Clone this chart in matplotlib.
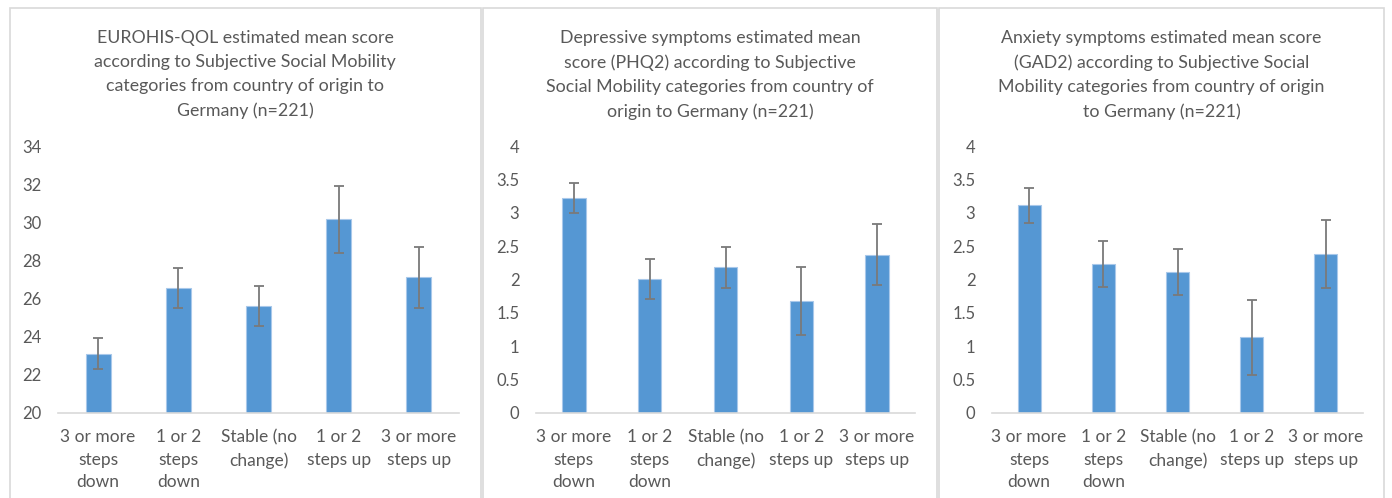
import matplotlib.pyplot as plt
from matplotlib.patches import Rectangle

plt.rcParams['font.family'] = ['Lato', 'DejaVu Sans']

# categories and estimated means with error half-widths
categories = ['3 or more\nsteps\ndown', '1 or 2\nsteps\ndown', 'Stable (no\nchange)',
              '1 or 2\nsteps up', '3 or more\nsteps up']

qol_mean = [23.1, 26.55, 25.6, 30.15, 27.1]
qol_err = [0.8, 1.05, 1.05, 1.75, 1.6]

phq_mean = [3.22, 2.01, 2.18, 1.68, 2.37]
phq_err = [0.23, 0.3, 0.305, 0.51, 0.46]

gad_mean = [3.11, 2.23, 2.11, 1.13, 2.38]
gad_err = [0.26, 0.34, 0.34, 0.565, 0.51]

titles = [
    'EUROHIS-QOL estimated mean score\naccording to Subjective Social Mobility\ncategories from country of origin to\nGermany (n=221)',
    'Depressive symptoms estimated mean\nscore (PHQ2) according to Subjective\nSocial Mobility categories from country of\norigin to Germany (n=221)',
    'Anxiety symptoms estimated mean score\n(GAD2) according to Subjective Social\nMobility categories from country of origin\nto Germany (n=221)',
]

W, H = 1392, 498
fig = plt.figure(figsize=(W / 100, H / 100), dpi=100)

gray = '#595959'
bar_color = '#5597d3'

# panel frames (x0, x1) and plot areas (left, right) in pixels
frames = [(9.5, 481), (483, 937), (939, 1384)]
areas = [(58, 459), (536, 915), (992, 1363)]
bottom_px, top_px = 412.7, 146

panels = [
    (qol_mean, qol_err, (20, 34), [20, 22, 24, 26, 28, 30, 32, 34], ['20', '22', '24', '26', '28', '30', '32', '34']),
    (phq_mean, phq_err, (0, 4), [0, 0.5, 1, 1.5, 2, 2.5, 3, 3.5, 4], ['0', '0.5', '1', '1.5', '2', '2.5', '3', '3.5', '4']),
    (gad_mean, gad_err, (0, 4), [0, 0.5, 1, 1.5, 2, 2.5, 3, 3.5, 4], ['0', '0.5', '1', '1.5', '2', '2.5', '3', '3.5', '4']),
]

for i, (means, errs, ylim, yt, ytl) in enumerate(panels):
    fx0, fx1 = frames[i]
    fig.patches.append(Rectangle((fx0 / W, -0.1), (fx1 - fx0) / W, 1.1 - 8 / H,
                                 transform=fig.transFigure, fill=False,
                                 edgecolor='#d9d9d9', linewidth=1.2))
    ax0, ax1 = areas[i]
    ax = fig.add_axes([ax0 / W, 1 - bottom_px / H, (ax1 - ax0) / W, (bottom_px - top_px) / H])
    x = range(len(categories))
    ax.bar(x, [m - ylim[0] for m in means], bottom=ylim[0], width=0.31,
           color=bar_color, edgecolor='#a8c8ea', linewidth=0.8, zorder=2)
    ax.errorbar(x, means, yerr=errs, fmt='none', ecolor='#7a7a7a',
                elinewidth=1.3, capsize=3.5, capthick=1.3, zorder=3)
    ax.set_xlim(-0.5, len(categories) - 0.5)
    ax.set_ylim(*ylim)
    ax.set_yticks(yt)
    ax.set_yticklabels(ytl)
    ax.set_xticks(list(x))
    ax.set_xticklabels(categories, linespacing=1.48)
    ax.tick_params(axis='both', length=0, labelsize=12, colors=gray)
    ax.tick_params(axis='x', labelsize=12.5, pad=12)
    ax.tick_params(axis='y', pad=12)
    for s in ['top', 'right', 'left']:
        ax.spines[s].set_visible(False)
    ax.spines['bottom'].set_color('#d9d9d9')
    ax.spines['bottom'].set_linewidth(1.2)
    fig.text((fx0 + fx1) / 2 / W, 1 - 29.5 / H, titles[i], ha='center', va='top',
             fontsize=12.8, color=gray, linespacing=1.63)

fig.savefig('out.png', dpi=100, facecolor='white')
